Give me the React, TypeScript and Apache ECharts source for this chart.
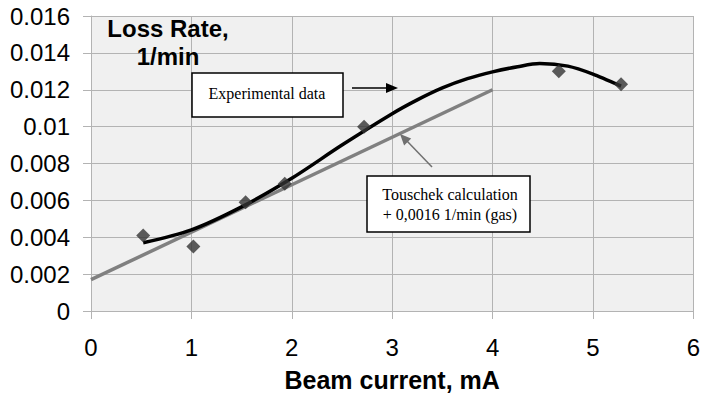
import React, { useEffect, useRef } from "react";
import * as echarts from "echarts";

// Beam current (mA) and measured loss rate (1/min)
const measuredCurrent = [0.52, 1.02, 1.54, 1.93, 2.72, 4.66, 5.28];
const measuredLossRate = [0.0041, 0.0035, 0.0059, 0.0069, 0.01, 0.013, 0.0123];

// Trend curve through the experimental points
const trendCurrent = [0.52, 1.0, 1.5, 2.0, 2.5, 3.0, 3.25, 3.5, 3.75, 4.0, 4.25, 4.47, 4.75, 5.0, 5.28];
const trendLossRate = [
  0.0037, 0.0044, 0.00565, 0.0072, 0.009, 0.0107, 0.01145, 0.0121, 0.0126, 0.01297, 0.01325, 0.01342,
  0.01328, 0.01285, 0.0122,
];

// Touschek calculation + 0.0016 1/min gas contribution
const touschekCurrent = [0, 4];
const touschekLossRate = [0.0017, 0.012];

// Axis ticks
const xTicks = [0, 1, 2, 3, 4, 5, 6];
const yTickLabels = ["0", "0.002", "0.004", "0.006", "0.008", "0.01", "0.012", "0.014", "0.016"];

const SANS = "'Liberation Sans', Arial, sans-serif";
const SERIF = "'Liberation Serif', 'Times New Roman', serif";
const GRID_COLOR = "#b3b3b3";

export default function App() {
  const ref = useRef<HTMLDivElement>(null);

  useEffect(() => {
    if (!ref.current) return;
    const chart = echarts.init(ref.current, undefined, { renderer: "svg" });

    const yStep = 0.002;
    const yMax = yStep * (yTickLabels.length - 1);

    chart.setOption({
      animation: false,
      backgroundColor: "#ffffff",
      grid: {
        left: 91,
        right: 8,
        top: 16,
        bottom: 81,
        show: true,
        backgroundColor: "#f0f0f0",
        borderWidth: 0,
      },
      xAxis: {
        type: "value",
        min: xTicks[0],
        max: xTicks[xTicks.length - 1],
        interval: 1,
        name: "Beam current, mA",
        nameLocation: "middle",
        nameGap: 56,
        nameTextStyle: { fontFamily: SANS, fontSize: 25, fontWeight: "bold", color: "#000" },
        axisLine: { show: true, lineStyle: { color: GRID_COLOR, width: 1 } },
        axisTick: { show: true, inside: false, length: 8, lineStyle: { color: GRID_COLOR } },
        axisLabel: { fontFamily: SANS, fontSize: 24, color: "#000", margin: 24 },
        splitLine: { show: true, lineStyle: { color: GRID_COLOR, width: 1 } },
      },
      yAxis: {
        type: "value",
        min: 0,
        max: yMax,
        interval: yStep,
        axisLine: { show: true, lineStyle: { color: GRID_COLOR, width: 1 } },
        axisTick: { show: true, inside: false, length: 8, lineStyle: { color: GRID_COLOR } },
        axisLabel: {
          fontFamily: SANS,
          fontSize: 24,
          color: "#000",
          margin: 21,
          formatter: (v: number) => yTickLabels[Math.round(v / yStep)] ?? "",
        },
        splitLine: { show: true, lineStyle: { color: GRID_COLOR, width: 1 } },
      },
      series: [
        {
          name: "Touschek",
          type: "line",
          data: touschekCurrent.map((x, i) => [x, touschekLossRate[i]]),
          showSymbol: false,
          lineStyle: { color: "#808080", width: 3.5 },
          z: 2,
        },
        {
          name: "Trend",
          type: "line",
          data: trendCurrent.map((x, i) => [x, trendLossRate[i]]),
          showSymbol: false,
          smooth: 0.3,
          lineStyle: { color: "#000000", width: 3.5 },
          z: 3,
        },
        {
          name: "Experimental data",
          type: "scatter",
          data: measuredCurrent.map((x, i) => [x, measuredLossRate[i]]),
          symbol: "diamond",
          symbolSize: 14,
          itemStyle: { color: "#333333" },
          z: 4,
        },
      ],
      graphic: [
        {
          type: "text",
          x: 168,
          y: 42,
          style: {
            text: "Loss Rate,\n1/min",
            fontFamily: SANS,
            fontSize: 24,
            fontWeight: "bold",
            fill: "#000",
            align: "center",
            verticalAlign: "middle",
            lineHeight: 28,
          },
          z: 10,
        },
        {
          type: "rect",
          shape: { x: 192, y: 73, width: 151, height: 44 },
          style: { fill: "#ffffff", stroke: "#000000", lineWidth: 1.5 },
          z: 10,
        },
        {
          type: "text",
          x: 267,
          y: 93,
          style: {
            text: "Experimental data",
            fontFamily: SERIF,
            fontSize: 16,
            fill: "#000",
            align: "center",
            verticalAlign: "middle",
          },
          z: 11,
        },
        {
          type: "line",
          shape: { x1: 352, y1: 88, x2: 390, y2: 88 },
          style: { stroke: "#000", lineWidth: 1.5 },
          z: 10,
        },
        {
          type: "polygon",
          shape: { points: [[398, 88], [386, 83], [386, 93]] },
          style: { fill: "#000" },
          z: 10,
        },
        {
          type: "rect",
          shape: { x: 367, y: 176, width: 163, height: 56 },
          style: { fill: "#ffffff", stroke: "#000000", lineWidth: 1.5 },
          z: 10,
        },
        {
          type: "text",
          x: 450,
          y: 204,
          style: {
            text: "Touschek calculation\n+ 0,0016 1/min (gas)",
            fontFamily: SERIF,
            fontSize: 16,
            lineHeight: 20,
            fill: "#000",
            align: "center",
            verticalAlign: "middle",
          },
          z: 11,
        },
        {
          type: "line",
          shape: { x1: 432, y1: 167, x2: 406, y2: 140 },
          style: { stroke: "#707070", lineWidth: 1.5 },
          z: 10,
        },
        {
          type: "polygon",
          shape: { points: [[400, 134], [411.2, 138.4], [404.1, 145.4]] },
          style: { fill: "#707070" },
          z: 10,
        },
      ],
    });

    return () => chart.dispose();
  }, []);

  return (
    <div
      ref={ref}
      style={{ position: "fixed", left: 0, top: 0, width: 703, height: 397, background: "#fff" }}
    />
  );
}
